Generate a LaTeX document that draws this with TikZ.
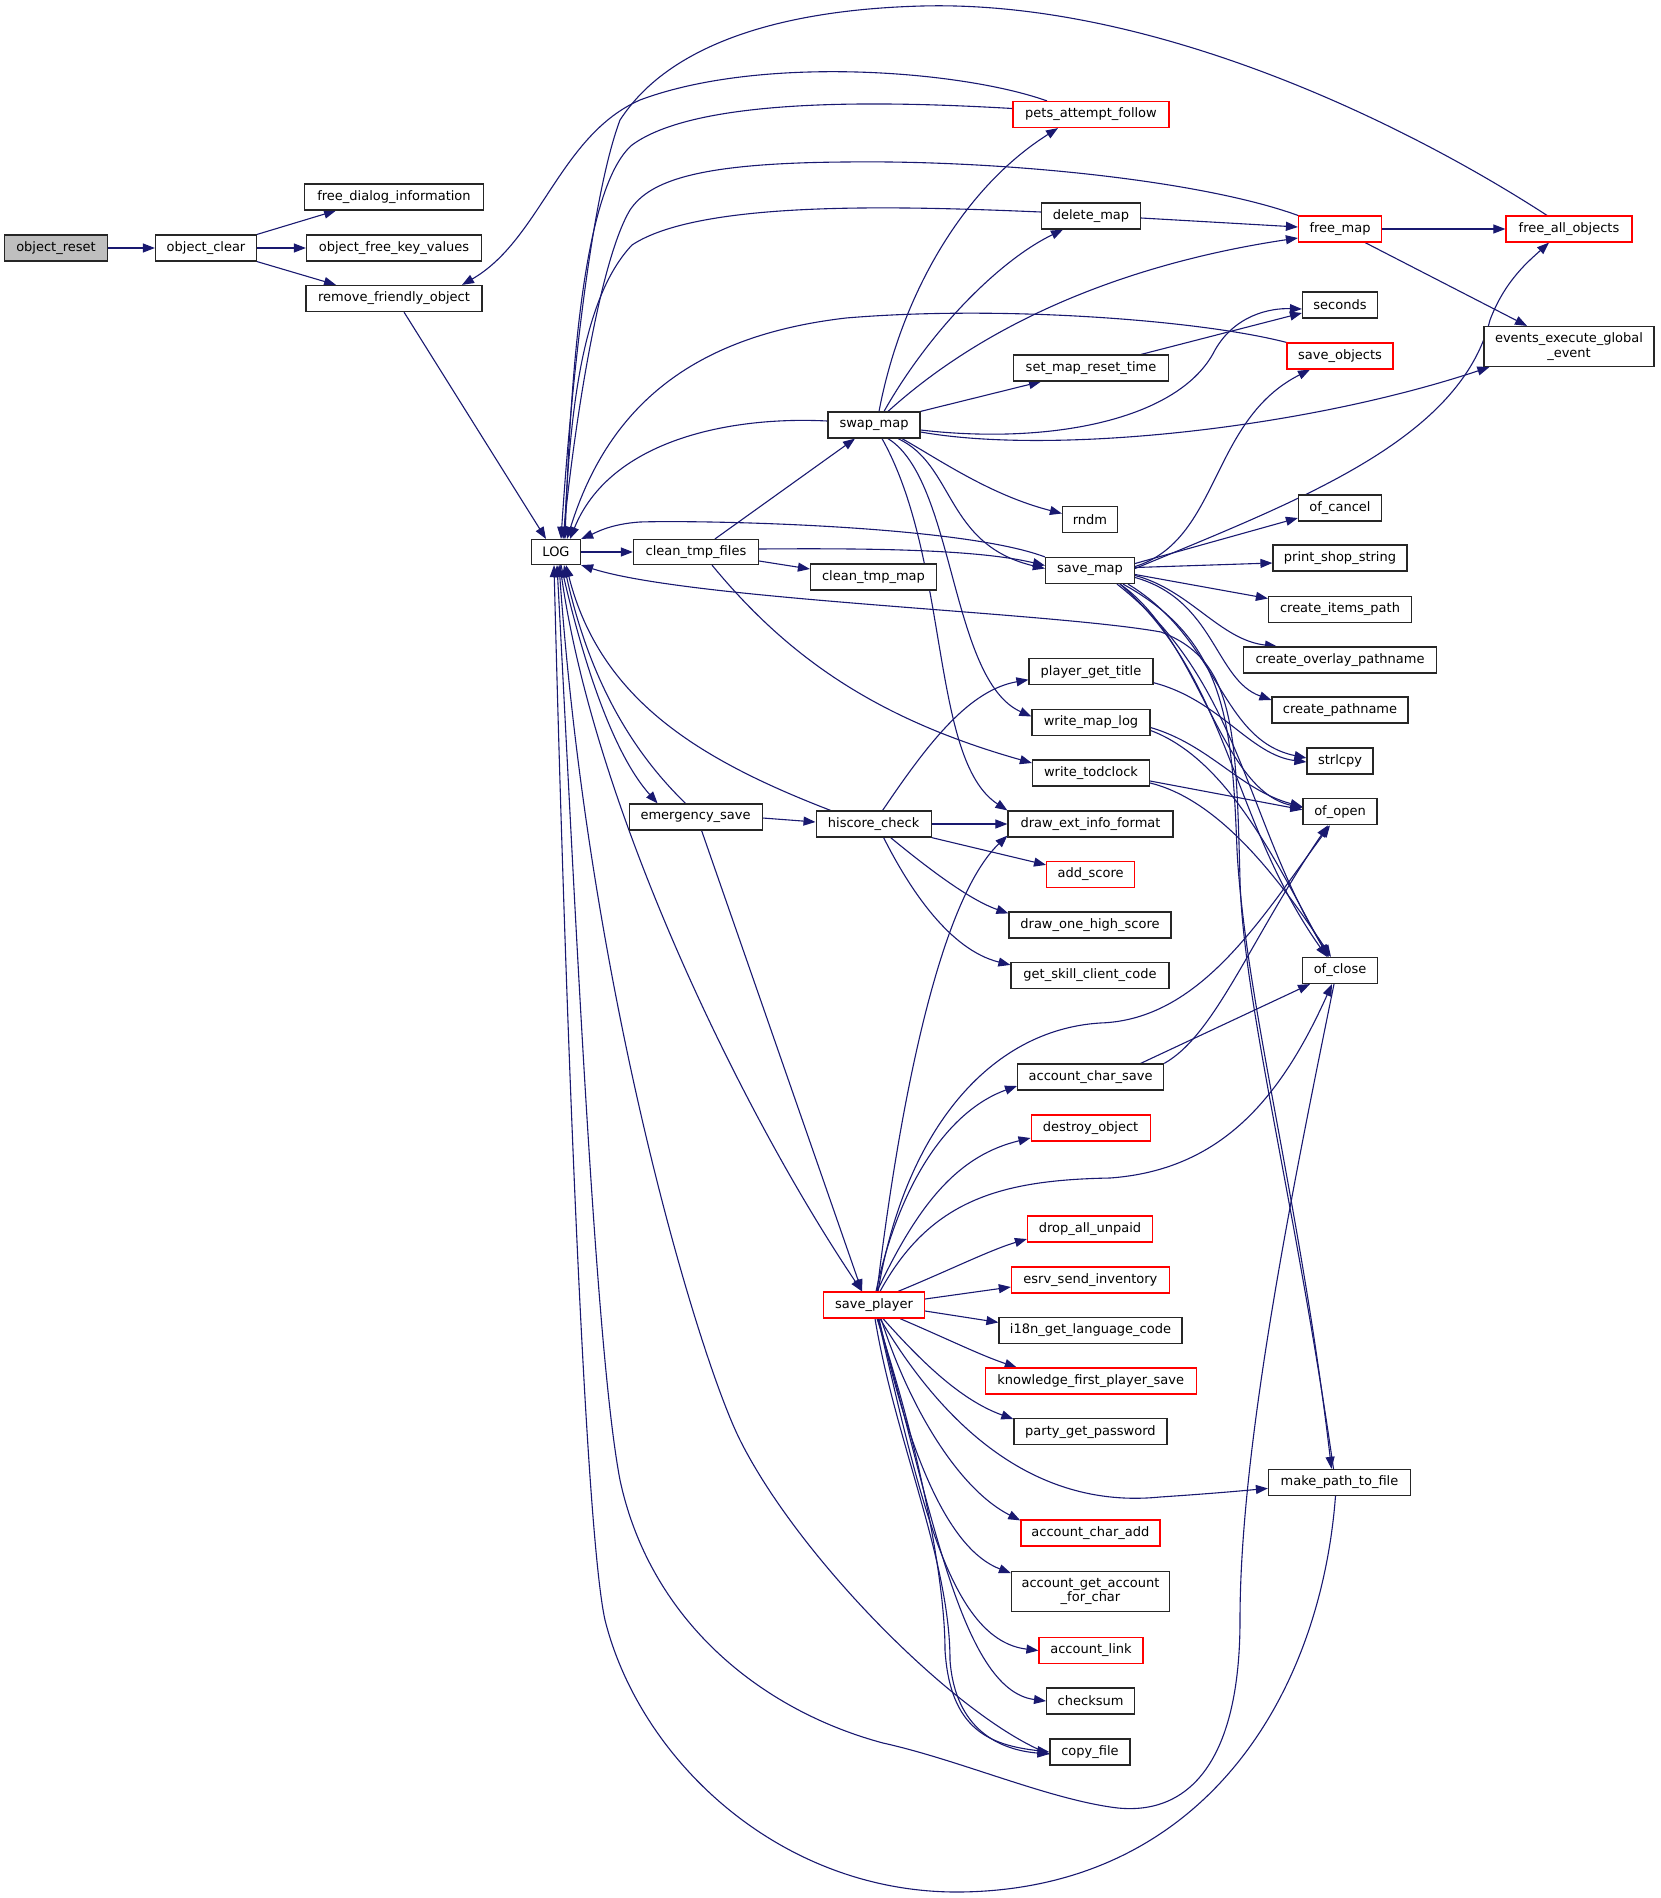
\documentclass[tikz,border=0pt]{standalone}
\usepackage{fontspec}
\setmainfont{DejaVu Sans}
\usetikzlibrary{arrows.meta}
\definecolor{edgec}{HTML}{191970}
\pgfdeclarelayer{edgelayer}
\pgfsetlayers{edgelayer,main}
\tikzset{
  fn/.style={draw=black!85, line width=1.2pt, fill=white, rectangle, inner sep=0pt,
    minimum height=26pt, font=\fontsize{13}{14.3}\selectfont, align=center},
  fnred/.style={fn, draw=red},
  fnroot/.style={fn, fill=black!25},
  edge/.style={draw=edgec, line width=1.1pt, -{Triangle[length=12pt,width=9pt]}},
}
\begin{document}
\begin{tikzpicture}[x=1pt,y=-1pt]
\useasboundingbox (0,0) rectangle (1660,1898);
% nodes
\node[fnroot, minimum width=103pt] (objreset) at (56,248) {object\_reset};
\node[fn, minimum width=101pt] (objclear) at (206,248) {object\_clear};
\node[fn, minimum width=179pt] (freedialog) at (394,197) {free\_dialog\_information};
\node[fn, minimum width=175pt] (objfreekv) at (394,248) {object\_free\_key\_values};
\node[fn, minimum width=176pt] (remfriendly) at (394,298.5) {remove\_friendly\_object};
\node[fn, minimum width=49pt, minimum height=25pt] (LOG) at (556,552) {LOG};
\node[fn, minimum width=125pt, minimum height=25pt] (cleanfiles) at (696,552) {clean\_tmp\_files};
\node[fn, minimum width=126pt] (cleanmap) at (873.5,577) {clean\_tmp\_map};
\node[fn, minimum width=92pt] (swapmap) at (874,425) {swap\_map};
\node[fnred, minimum width=156pt] (pets) at (1091,114.5) {pets\_attempt\_follow};
\node[fn, minimum width=99pt] (deletemap) at (1091,216) {delete\_map};
\node[fnred, minimum width=83pt] (freemap) at (1340,229) {free\_map};
\node[fnred, minimum width=126pt] (freeall) at (1569,229) {free\_all\_objects};
\node[fn, minimum width=75pt] (seconds) at (1340,305) {seconds};
\node[fnred, minimum width=106pt] (saveobjects) at (1340,356) {save\_objects};
\node[fn, minimum width=170pt, minimum height=40pt] (events) at (1569,346.5) {events\_execute\_global\\\_event};
\node[fn, minimum width=155pt] (setreset) at (1091,368) {set\_map\_reset\_time};
\node[fn, minimum width=55pt] (rndm) at (1090,519.5) {rndm};
\node[fn, minimum width=83pt] (ofcancel) at (1340,508) {of\_cancel};
\node[fn, minimum width=134pt] (printshop) at (1340,558) {print\_shop\_string};
\node[fn, minimum width=89pt] (savemap) at (1090,570.5) {save\_map};
\node[fn, minimum width=143pt] (createitems) at (1340,609.5) {create\_items\_path};
\node[fn, minimum width=193pt] (createoverlay) at (1340,660) {create\_overlay\_pathname};
\node[fn, minimum width=136pt] (createpath) at (1340,710) {create\_pathname};
\node[fn, minimum width=124pt] (playertitle) at (1091,671.7) {player\_get\_title};
\node[fn, minimum width=118pt] (writemaplog) at (1091,722.5) {write\_map\_log};
\node[fn, minimum width=117pt] (writetod) at (1091,773) {write\_todclock};
\node[fn, minimum width=66pt] (strlcpy) at (1340,761) {strlcpy};
\node[fn, minimum width=74pt] (ofopen) at (1340,811.7) {of\_open};
\node[fn, minimum width=133pt] (emergency) at (695.6,817) {emergency\_save};
\node[fn, minimum width=115pt] (hiscore) at (873.6,824) {hiscore\_check};
\node[fn, minimum width=165pt] (drawext) at (1090.5,824) {draw\_ext\_info\_format};
\node[fnred, minimum width=88pt] (addscore) at (1090.6,874.5) {add\_score};
\node[fn, minimum width=162pt] (drawone) at (1090,925) {draw\_one\_high\_score};
\node[fn, minimum width=158pt] (getskill) at (1090,975.5) {get\_skill\_client\_code};
\node[fn, minimum width=75pt] (ofclose) at (1340,970.5) {of\_close};
\node[fn, minimum width=146pt] (acharsave) at (1090.6,1077) {account\_char\_save};
\node[fnred, minimum width=119pt] (destroy) at (1090.6,1128) {destroy\_object};
\node[fnred, minimum width=125pt] (dropall) at (1090,1229) {drop\_all\_unpaid};
\node[fnred, minimum width=158pt] (esrv) at (1090.4,1280) {esrv\_send\_inventory};
\node[fnred, minimum width=101pt] (saveplayer) at (874,1305) {save\_player};
\node[fn, minimum width=183pt] (i18n) at (1090.5,1330.4) {i18n\_get\_language\_code};
\node[fnred, minimum width=211pt] (knowledge) at (1090.7,1381) {knowledge\_first\_player\_save};
\node[fn, minimum width=153pt] (party) at (1090.4,1431.6) {party\_get\_password};
\node[fn, minimum width=142pt] (makepath) at (1339.5,1482.4) {make\_path\_to\_file};
\node[fnred, minimum width=139pt] (acharadd) at (1090.4,1533) {account\_char\_add};
\node[fn, minimum width=158pt, minimum height=40pt] (agetacc) at (1090.5,1591.7) {account\_get\_account\\\_for\_char};
\node[fnred, minimum width=104pt] (alink) at (1091,1650.5) {account\_link};
\node[fn, minimum width=88pt] (checksum) at (1090.6,1701) {checksum};
\node[fn, minimum width=80pt] (copyfile) at (1090,1752) {copy\_file};

\begin{pgfonlayer}{edgelayer}
% left part
\draw[edge] (objreset.east) -- (objclear.west);
\draw[edge] (objclear.north east) -- ([xshift=-58pt]freedialog.south);
\draw[edge] (objclear.east) -- (objfreekv.west);
\draw[edge] (objclear.south east) -- ([xshift=-58pt]remfriendly.north);
\draw[edge] ([xshift=10pt]remfriendly.south) -- ([xshift=-10pt]LOG.north);
\draw[edge] ([xshift=-44pt]pets.north) .. controls (960,70) and (760,55) .. (640,100) .. controls (560,135) and (540,240) .. ([xshift=68pt]remfriendly.north);
% edges into LOG from above
\draw[edge] ([yshift=6pt]pets.west) .. controls (900,102) and (700,95) .. (632,145) .. controls (580,190) and (570,400) .. ([xshift=9pt]LOG.north);
\draw[edge] ([xshift=-22pt]freeall.north) .. controls (1400,120) and (1150,0) .. (922,6) .. controls (700,12) and (640,90) .. (620,120) .. controls (590,200) and (570,400) .. ([xshift=5pt]LOG.north);
\draw[edge] (freemap.north west) .. controls (1200,180) and (1000,160) .. (846,162) .. controls (700,163) and (650,180) .. (630,210) .. controls (600,260) and (575,420) .. ([xshift=7pt]LOG.north);
\draw[edge] ([yshift=4pt]deletemap.west) .. controls (900,206) and (700,200) .. (632,245) .. controls (580,300) and (570,420) .. ([xshift=8pt]LOG.north);
\draw[edge] (saveobjects.north west) .. controls (1200,320) and (1000,305) .. (846,318) .. controls (700,335) and (610,400) .. ([xshift=11pt]LOG.north);
\draw[edge] ([yshift=4pt]swapmap.west) .. controls (730,416) and (610,440) .. ([xshift=14pt]LOG.north);
\draw[edge] (savemap.north west) .. controls (960,525) and (700,520) .. (640,522) .. controls (610,524) and (595,533) .. (LOG.north east);
% clean_tmp_files
\draw[edge] (LOG.east) -- (cleanfiles.west);
\draw[edge] ([xshift=19pt]cleanfiles.north) -- ([xshift=-19pt]swapmap.south);
\draw[edge] ([yshift=3pt]cleanfiles.east) .. controls (880,548) and (980,550) .. ([yshift=5pt]savemap.west);
\draw[edge] ([yshift=-9pt]cleanfiles.east) -- ([yshift=8pt]cleanmap.west);
\draw[edge] ([xshift=16pt]cleanfiles.south) .. controls (790,660) and (880,720) .. ([yshift=10pt]writetod.west);
% swap_map
\draw[edge] ([xshift=5pt]swapmap.north) .. controls (900,300) and (960,190) .. ([xshift=-33pt]pets.south);
\draw[edge] ([xshift=10pt]swapmap.north) .. controls (930,330) and (1000,260) .. ([xshift=-28pt]deletemap.south);
\draw[edge] ([xshift=14pt]swapmap.north) .. controls (1000,310) and (1150,260) .. ([yshift=-9pt]freemap.west);
\draw[edge] (swapmap.north east) -- ([xshift=-50pt]setreset.south);
\draw[edge] ([yshift=-5pt]swapmap.east) .. controls (1050,445) and (1180,420) .. (1215,350) .. controls (1235,315) and (1270,308) .. ([yshift=-4pt]seconds.west);
\draw[edge] ([yshift=-7pt]swapmap.east) .. controls (1050,455) and (1300,430) .. ([xshift=6pt]events.south west);
\draw[edge] ([xshift=28pt]swapmap.south) .. controls (940,460) and (990,495) .. ([yshift=6pt]rndm.west);
\draw[edge] ([xshift=24pt]swapmap.south) .. controls (955,465) and (945,545) .. ([yshift=2pt]savemap.west);
\draw[edge] ([xshift=8pt]swapmap.south) .. controls (950,560) and (930,760) .. (drawext.north west);
\draw[edge] ([xshift=14pt]swapmap.south) .. controls (955,480) and (950,680) .. ([yshift=6pt]writemaplog.west);
% free_map, delete_map, set_map_reset_time
\draw[edge] (freemap.east) -- (freeall.west);
\draw[edge] ([xshift=-17pt]freemap.south east) -- ([xshift=-42pt]events.north);
\draw[edge] ([yshift=-2pt]deletemap.east) -- ([yshift=2pt]freemap.west);
\draw[edge] ([xshift=-28pt]setreset.north east) -- ([yshift=-8pt]seconds.west);
% save_map
\draw[edge] ([yshift=4pt]savemap.east) .. controls (1220,540) and (1210,420) .. ([xshift=-30pt]saveobjects.south);
\draw[edge] ([yshift=2pt]savemap.east) .. controls (1300,500) and (1460,440) .. (1490,320) .. controls (1505,280) and (1530,260) .. ([xshift=-20pt]freeall.south);
\draw[edge] ([yshift=7pt]savemap.east) -- ([yshift=-10pt]ofcancel.west);
\draw[edge] ([yshift=3pt]savemap.east) -- ([yshift=-5pt]printshop.west);
\draw[edge] ([yshift=-4pt]savemap.east) -- ([yshift=11pt]createitems.west);
\draw[edge] ([yshift=-5pt]savemap.east) .. controls (1190,590) and (1220,640) .. ([xshift=-63pt]createoverlay.north);
\draw[edge] ([yshift=-7pt]savemap.east) .. controls (1215,600) and (1215,680) .. ([yshift=10pt]createpath.west);
\draw[edge] ([xshift=38pt]savemap.south) .. controls (1220,640) and (1220,740) .. ([yshift=3pt]strlcpy.west);
\draw[edge] ([xshift=30pt]savemap.south) .. controls (1200,640) and (1220,790) .. ([yshift=4pt]ofopen.west);
\draw[edge] ([xshift=30pt]savemap.south) .. controls (1230,680) and (1230,820) .. ([xshift=-13pt]ofclose.north);
\draw[edge] ([xshift=27pt]savemap.south) .. controls (1240,680) and (1245,820) .. ([xshift=-11pt]ofclose.north);
\draw[edge] ([xshift=33pt]savemap.south) .. controls (1225,640) and (1232,720) .. (1237,850) .. controls (1245,1000) and (1300,1200) .. ([xshift=-8pt]makepath.north);
\draw[edge] ([xshift=-6pt]makepath.north) .. controls (1295,1200) and (1243,1000) .. (1240,880) .. controls (1236,730) and (1235,660) .. (1161,632) .. controls (1050,612) and (690,600) .. (LOG.south east);
% player_get_title, write_map_log, write_todclock
\draw[edge] ([yshift=-11pt]playertitle.east) .. controls (1220,700) and (1250,755) .. ([yshift=-1pt]strlcpy.west);
\draw[edge] ([yshift=-5pt]writemaplog.east) .. controls (1210,745) and (1240,790) .. ([yshift=5pt]ofopen.west);
\draw[edge] ([yshift=-8pt]writemaplog.east) .. controls (1230,760) and (1280,870) .. ([xshift=-12pt]ofclose.north);
\draw[edge] ([yshift=-8pt]writetod.east) -- ([yshift=2pt]ofopen.west);
\draw[edge] ([yshift=-10pt]writetod.east) .. controls (1220,800) and (1280,880) .. ([xshift=-9pt]ofclose.north);
% LOG downward
\draw[edge] ([xshift=5pt]LOG.south) .. controls (580,650) and (610,750) .. ([xshift=-38pt]emergency.north);
\draw[edge] ([xshift=-10pt]emergency.north) .. controls (620,740) and (585,660) .. ([xshift=8pt]LOG.south);
\draw[edge] ([xshift=-43pt]hiscore.north) .. controls (700,760) and (600,700) .. ([xshift=10pt]LOG.south);
\draw[edge] ([yshift=-1pt]emergency.east) -- ([yshift=2pt]hiscore.west);
\draw[edge] ([xshift=6pt]emergency.south) -- ([xshift=-12pt]saveplayer.north);
\draw[edge] ([xshift=4pt]LOG.south) .. controls (590,800) and (740,1110) .. ([xshift=-12pt]saveplayer.north);
\draw[edge] ([xshift=-4pt]makepath.south) .. controls (1320,1700) and (1200,1890) .. (959,1892) .. controls (780,1893) and (640,1760) .. (605,1620) .. controls (585,1530) and (565,1000) .. ([xshift=-2pt]LOG.south);
\draw[edge] ([xshift=-6pt]ofclose.south) .. controls (1290,1200) and (1240,1450) .. (1240,1620) .. controls (1240,1760) and (1190,1815) .. (1118,1808) .. controls (1050,1800) and (960,1760) .. (883,1743) .. controls (760,1710) and (650,1620) .. (620,1480) .. controls (595,1350) and (575,900) .. ([xshift=1pt]LOG.south);
\draw[edge] ([yshift=-2pt]copyfile.west) .. controls (960,1720) and (800,1560) .. (740,1440) .. controls (700,1360) and (590,1000) .. ([xshift=3pt]LOG.south);
% hiscore_check
\draw[edge] (hiscore.east) -- (drawext.west);
\draw[edge] ([xshift=9pt]hiscore.north) .. controls (930,740) and (970,690) .. ([yshift=-8pt]playertitle.west);
\draw[edge] (hiscore.south east) -- ([yshift=-4pt]addscore.north west);
\draw[edge] ([xshift=17pt]hiscore.south) .. controls (930,870) and (970,900) .. ([yshift=-2pt]drawone.north west);
\draw[edge] ([xshift=10pt]hiscore.south) .. controls (910,890) and (950,950) .. ([yshift=-3pt]getskill.north west);
% save_player
\draw[edge] ([xshift=4pt]saveplayer.north) .. controls (905,1130) and (990,1030) .. (1100,1023) .. controls (1200,1020) and (1260,920) .. ([xshift=-10pt]ofopen.south);
\draw[edge] (acharsave.north east) .. controls (1215,1035) and (1250,940) .. ([xshift=-12pt]ofopen.south);
\draw[edge] ([xshift=50pt]acharsave.north) -- ([xshift=-30pt]ofclose.south);
\draw[edge] ([xshift=6pt]saveplayer.north) .. controls (930,1200) and (1000,1180) .. (1110,1178) .. controls (1220,1170) and (1280,1100) .. ([xshift=-8pt]ofclose.south);
\draw[edge] ([xshift=2pt]saveplayer.north) .. controls (900,1180) and (950,1110) .. ([yshift=-9pt]acharsave.west);
\draw[edge] ([xshift=3pt]saveplayer.north) .. controls (920,1200) and (960,1155) .. ([yshift=-10pt]destroy.west);
\draw[edge] ([xshift=24pt]saveplayer.north) .. controls (950,1270) and (990,1250) .. ([yshift=-10pt]dropall.west);
\draw[edge] ([yshift=6pt]saveplayer.east) -- ([yshift=-7pt]esrv.west);
\draw[edge] ([yshift=-6pt]saveplayer.east) -- ([yshift=8pt]i18n.west);
\draw[edge] ([xshift=26pt]saveplayer.south) .. controls (950,1340) and (980,1355) .. ([xshift=-74pt]knowledge.north);
\draw[edge] ([xshift=9pt]saveplayer.south) .. controls (920,1360) and (960,1400) .. ([yshift=-1pt]party.north west);
\draw[edge] ([xshift=6pt]saveplayer.south) .. controls (940,1420) and (1030,1510) .. (1160,1497) .. controls (1220,1493) and (1250,1490) .. ([yshift=-6pt]makepath.west);
\draw[edge] ([xshift=7pt]saveplayer.south) .. controls (910,1410) and (960,1490) .. ([yshift=-1pt]acharadd.north west);
\draw[edge] ([xshift=5pt]saveplayer.south) .. controls (910,1460) and (950,1550) .. ([yshift=-2pt]agetacc.north west);
\draw[edge] ([xshift=4pt]saveplayer.south) .. controls (920,1500) and (950,1640) .. (alink.west);
\draw[edge] ([xshift=4pt]saveplayer.south) .. controls (930,1500) and (960,1690) .. (checksum.west);
\draw[edge] ([xshift=3pt]saveplayer.south) .. controls (920,1450) and (945,1580) .. (945,1650) .. controls (950,1730) and (990,1745) .. (copyfile.west);
\draw[edge] ([xshift=1pt]saveplayer.south) .. controls (895,1440) and (950,1560) .. (950,1660) .. controls (955,1730) and (1000,1750) .. ([yshift=-2pt]copyfile.west);
\draw[edge] ([xshift=3pt]saveplayer.north) .. controls (900,1100) and (940,900) .. ([yshift=2pt]drawext.south west);
\end{pgfonlayer}
\end{tikzpicture}
\end{document}
